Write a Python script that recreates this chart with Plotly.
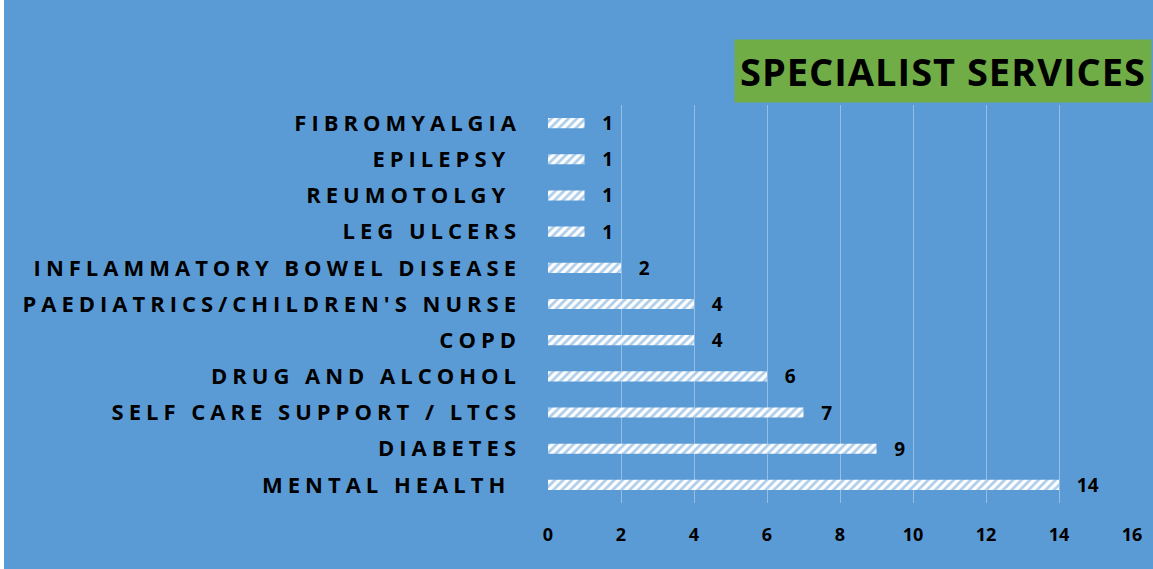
import plotly.graph_objects as go

BG = "#5B9BD5"
GREEN = "#70AD47"

services = [
    "FIBROMYALGIA",
    "EPILEPSY ",
    "REUMOTOLGY ",
    "LEG ULCERS",
    "INFLAMMATORY BOWEL DISEASE",
    "PAEDIATRICS/CHILDREN'S NURSE",
    "COPD",
    "DRUG AND ALCOHOL",
    "SELF CARE SUPPORT / LTCS",
    "DIABETES",
    "MENTAL HEALTH ",
]
counts = [1, 1, 1, 1, 2, 4, 4, 6, 7, 9, 14]
x_ticks = [0, 2, 4, 6, 8, 10, 12, 14, 16]


def spaced(label, px=5):
    # excel-style letter spacing via svg tspan style
    return f"<span style='letter-spacing:{px}px'>{label.replace(' ', '&nbsp;')}</span>"


fig = go.Figure(
    go.Bar(
        y=services,
        x=counts,
        orientation="h",
        marker=dict(
            color="white",
            line_width=0,
            pattern=dict(shape="/", fgcolor=BG, bgcolor="white", size=6, solidity=0.45),
        ),
        text=[f"&nbsp;&nbsp;&nbsp;{v}" for v in counts],
        textposition="outside",
        constraintext="none",
        cliponaxis=False,
        textfont=dict(family="Open Sans", size=19, color="black", weight=700),
        hoverinfo="skip",
    )
)

fig.add_annotation(
    text="<span style='letter-spacing:1px'>SPECIALIST SERVICES</span>",
    xref="paper", yref="paper",
    x=1.0, y=1.0, xanchor="right", yanchor="bottom",
    xshift=20, yshift=2,
    showarrow=False,
    bgcolor=GREEN,
    borderpad=5,
    font=dict(family="Open Sans", size=38, color="black", weight=700),
)

fig.update_layout(
    width=1149,
    height=569,
    paper_bgcolor=BG,
    plot_bgcolor=BG,
    margin=dict(l=544, r=11, t=105, b=66),
    bargap=0.72,
    showlegend=False,
)
fig.update_xaxes(
    range=[0, 16],
    tickvals=x_ticks,
    showgrid=True,
    gridcolor="rgba(255,255,255,0.35)",
    gridwidth=1,
    zeroline=False,
    showline=False,
    ticks="",
    ticklabelstandoff=19,
    tickfont=dict(family="Open Sans", size=18, color="black", weight=700),
)
fig.update_yaxes(
    tickvals=services,
    ticktext=[spaced(s) for s in services],
    autorange="reversed",
    showgrid=False,
    zeroline=False,
    showline=False,
    ticks="",
    ticklabelstandoff=26,
    tickfont=dict(family="Open Sans", size=22, color="black", weight=700),
)

fig.write_html("out.html", post_script="document.body.style.margin='0 0 0 4px';")
